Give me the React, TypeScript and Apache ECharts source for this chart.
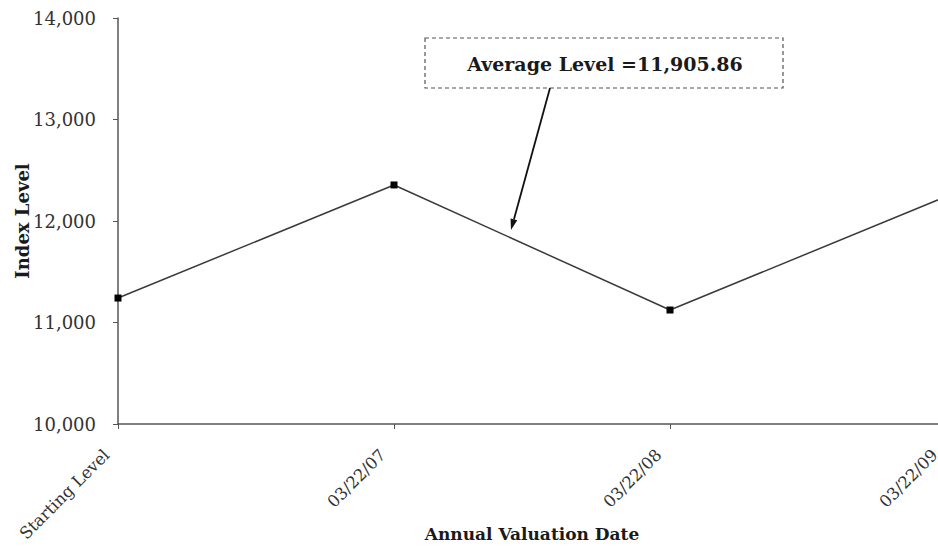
import React, { useEffect, useRef } from "react";
import * as echarts from "echarts";

const categories = ["Starting Level", "03/22/07", "03/22/08", "03/22/09"];
const indexLevels = [11241, 12355, 11123, 12240];
const yMin = 10000;
const yMax = 14000;
const yInterval = 1000;
const annotationText = "Average Level =11,905.86";

const FONT = "DejaVu Serif";
const TEXT = "#1a1a1a";

export default function App() {
  const ref = useRef<HTMLDivElement>(null);
  useEffect(() => {
    if (!ref.current) return;
    const chart = echarts.init(ref.current, undefined, { renderer: "svg" });
    // arrow geometry
    const sx = 550, sy = 88, tx = 511, ty = 230;
    const dx = tx - sx, dy = ty - sy;
    const len = Math.sqrt(dx * dx + dy * dy);
    const ux = dx / len, uy = dy / len;
    const hl = 11, hw = 3.5;
    const bx = tx - hl * ux, by = ty - hl * uy;
    const px = -uy, py = ux;
    chart.setOption({
      animation: false,
      backgroundColor: "#ffffff",
      textStyle: { fontFamily: FONT },
      grid: {
        left: 118,
        top: 18,
        bottom: 124,
        right: -8,
        containLabel: false,
        outerBoundsMode: "none",
      },
      xAxis: {
        type: "category",
        data: categories,
        boundaryGap: false,
        name: "Annual Valuation Date",
        nameLocation: "middle",
        nameGap: 101,
        nameMoveOverlap: false,
        nameTextStyle: { fontFamily: FONT, fontWeight: "bold", fontSize: 17, color: TEXT },
        axisLine: { lineStyle: { color: "#555", width: 1.5 } },
        axisTick: { show: true, length: 5, lineStyle: { color: "#555" } },
        axisLabel: {
          rotate: 45,
          fontFamily: FONT,
          fontSize: 16.5,
          color: "#333",
          margin: 17,
          formatter: (v: string) => `{t|${v}}{s|}`,
          rich: {
            t: { fontFamily: FONT, fontSize: 16.5, color: "#333" },
            s: { width: 16, fontSize: 16.5 },
          },
        },
        splitLine: { show: false },
      },
      yAxis: {
        type: "value",
        min: yMin,
        max: yMax,
        interval: yInterval,
        name: "Index Level",
        nameLocation: "middle",
        nameGap: 87,
        nameRotate: 90,
        nameMoveOverlap: false,
        nameTextStyle: { fontFamily: FONT, fontWeight: "bold", fontSize: 18, color: TEXT },
        axisLine: { show: true, lineStyle: { color: "#555", width: 1.5 } },
        axisTick: { show: true, length: 5, lineStyle: { color: "#555" } },
        axisLabel: {
          fontFamily: FONT,
          fontSize: 18,
          color: "#333",
          margin: 22,
          formatter: (v: number) => v.toLocaleString("en-US"),
        },
        splitLine: { show: false },
      },
      series: [
        {
          type: "line",
          data: indexLevels,
          symbol: "rect",
          symbolSize: 7,
          itemStyle: { color: "#000" },
          lineStyle: { color: "#3a3a3a", width: 1.5 },
          clip: false,
        },
      ],
      graphic: [
        {
          type: "rect",
          shape: { x: 425, y: 38, width: 358, height: 50 },
          style: { fill: "#fff", stroke: "#555", lineWidth: 1.2, lineDash: [4, 3] },
          z: 100,
        },
        {
          type: "text",
          x: 605,
          y: 64,
          style: {
            text: annotationText,
            fontFamily: FONT,
            fontWeight: "bold",
            fontSize: 19,
            fill: TEXT,
            align: "center",
            verticalAlign: "middle",
          },
          z: 101,
        },
        {
          type: "line",
          shape: { x1: sx, y1: sy, x2: bx, y2: by },
          style: { stroke: "#111", lineWidth: 1.8 },
          z: 100,
        },
        {
          type: "polygon",
          shape: {
            points: [
              [tx, ty],
              [bx + hw * px, by + hw * py],
              [bx - hw * px, by - hw * py],
            ],
          },
          style: { fill: "#111" },
          z: 100,
        },
      ],
    });
    return () => chart.dispose();
  }, []);
  return (
    <div
      ref={ref}
      style={{ position: "absolute", left: 0, top: 0, width: 938, height: 548 }}
    />
  );
}
